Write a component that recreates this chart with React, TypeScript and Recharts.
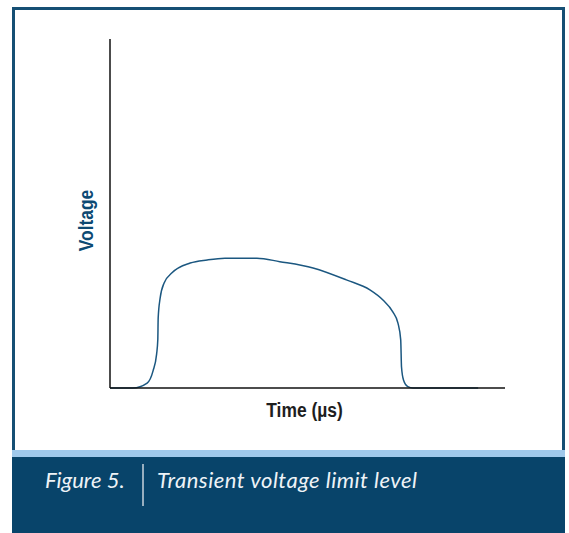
import { LineChart, Line, XAxis, YAxis, Label } from 'recharts';

// time (µs, arbitrary units) and voltage (arbitrary units)
const timeValues = [
  0, 5.8, 9.4, 10.9, 11.8, 12.1, 12.2, 12.7, 13.7, 15.7, 20.3, 24.6, 29.1, 37.2,
  43.0, 51.4, 60.0, 65.8, 69.1, 71.6, 72.9, 73.6, 73.8, 74.3, 75.4, 76.7, 93.2,
];
const voltageValues = [
  0, 0, 1.4, 4.9, 9.7, 13.8, 20.1, 25.8, 30.1, 33.0, 35.8, 36.7, 37.2, 37.2,
  36.2, 34.4, 30.9, 28.1, 25.2, 21.8, 18.6, 13.8, 6.0, 2.3, 0.4, 0, 0,
];
const xLabel = 'Time (µs)';
const yLabel = 'Voltage';
const figureNumber = 'Figure 5.';
const figureTitle = 'Transient voltage limit level';

const data = timeValues.map((t, i) => ({ t, v: voltageValues[i] }));

const NAVY = '#08446a';
const LINE = '#1b5780';
const LABEL_FONT = "'Liberation Sans', Arial, sans-serif";
const CAPTION_FONT = "'Lato', 'Open Sans', sans-serif";
// squeeze the bold labels to look like a condensed face
const SQUEEZE = 0.83;

export default function App() {
  return (
    <div style={{ position: 'absolute', left: 0, top: 0, width: 569, height: 533, background: '#fff', overflow: 'hidden' }}>
      {/* framed panel */}
      <div
        style={{
          position: 'absolute',
          left: 12,
          top: 7,
          width: 553,
          height: 443,
          boxSizing: 'border-box',
          borderTop: `3px solid #164f74`,
          borderLeft: `3px solid #164f74`,
          borderRight: `3px solid #164f74`,
        }}
      />
      <div style={{ position: 'absolute', left: 0, top: 0 }}>
        <LineChart
          width={569}
          height={450}
          data={data}
          margin={{ top: 39, left: 109, right: 64, bottom: 61 }}
        >
          <XAxis
            dataKey="t"
            type="number"
            domain={[0, 100]}
            height={1}
            tick={false}
            tickLine={false}
            axisLine={{ stroke: '#111', strokeWidth: 1.5 }}
          >
            <Label
              content={({ viewBox }: any) => {
                const cx = viewBox.x + viewBox.width / 2 - 3;
                const cy = viewBox.y + 29;
                return (
                  <text
                    x={0}
                    y={0}
                    transform={`translate(${cx} ${cy}) scale(${SQUEEZE} 1)`}
                    textAnchor="middle"
                    fill="#1e1e1e"
                    fontFamily={LABEL_FONT}
                    fontWeight="bold"
                    fontSize={21}
                  >
                    {xLabel}
                  </text>
                );
              }}
            />
          </XAxis>
          <YAxis
            type="number"
            domain={[0, 100]}
            width={1}
            tick={false}
            tickLine={false}
            axisLine={{ stroke: '#111', strokeWidth: 1.5 }}
          >
            <Label
              content={({ viewBox }: any) => {
                const cx = viewBox.x + viewBox.width - 17;
                const cy = viewBox.y + viewBox.height / 2 + 7;
                return (
                  <text
                    x={0}
                    y={0}
                    transform={`translate(${cx} ${cy}) rotate(-90) scale(${SQUEEZE} 1)`}
                    textAnchor="middle"
                    fill="#0d4a73"
                    fontFamily={LABEL_FONT}
                    fontWeight="bold"
                    fontSize={21}
                  >
                    {yLabel}
                  </text>
                );
              }}
            />
          </YAxis>
          <Line
            type="monotone"
            dataKey="v"
            stroke={LINE}
            strokeWidth={1.5}
            dot={false}
            isAnimationActive={false}
          />
        </LineChart>
      </div>
      {/* caption band */}
      <div style={{ position: 'absolute', left: 12, top: 450, width: 553, height: 7, background: '#a0c9eb' }} />
      <svg style={{ position: 'absolute', left: 12, top: 457 }} width={553} height={76}>
        <rect x={0} y={0} width={553} height={76} fill={NAVY} />
        <text x={33} y={31} fill="#eef3f7" fontFamily={CAPTION_FONT} fontStyle="italic" fontSize={22}>
          {figureNumber}
        </text>
        <line x1={131} x2={131} y1={7} y2={49} stroke="#c8d3dc" strokeWidth={1.5} />
        <text x={145} y={31} fill="#eef3f7" fontFamily={CAPTION_FONT} fontStyle="italic" fontSize={22} letterSpacing={0.5}>
          {figureTitle}
        </text>
      </svg>
    </div>
  );
}
